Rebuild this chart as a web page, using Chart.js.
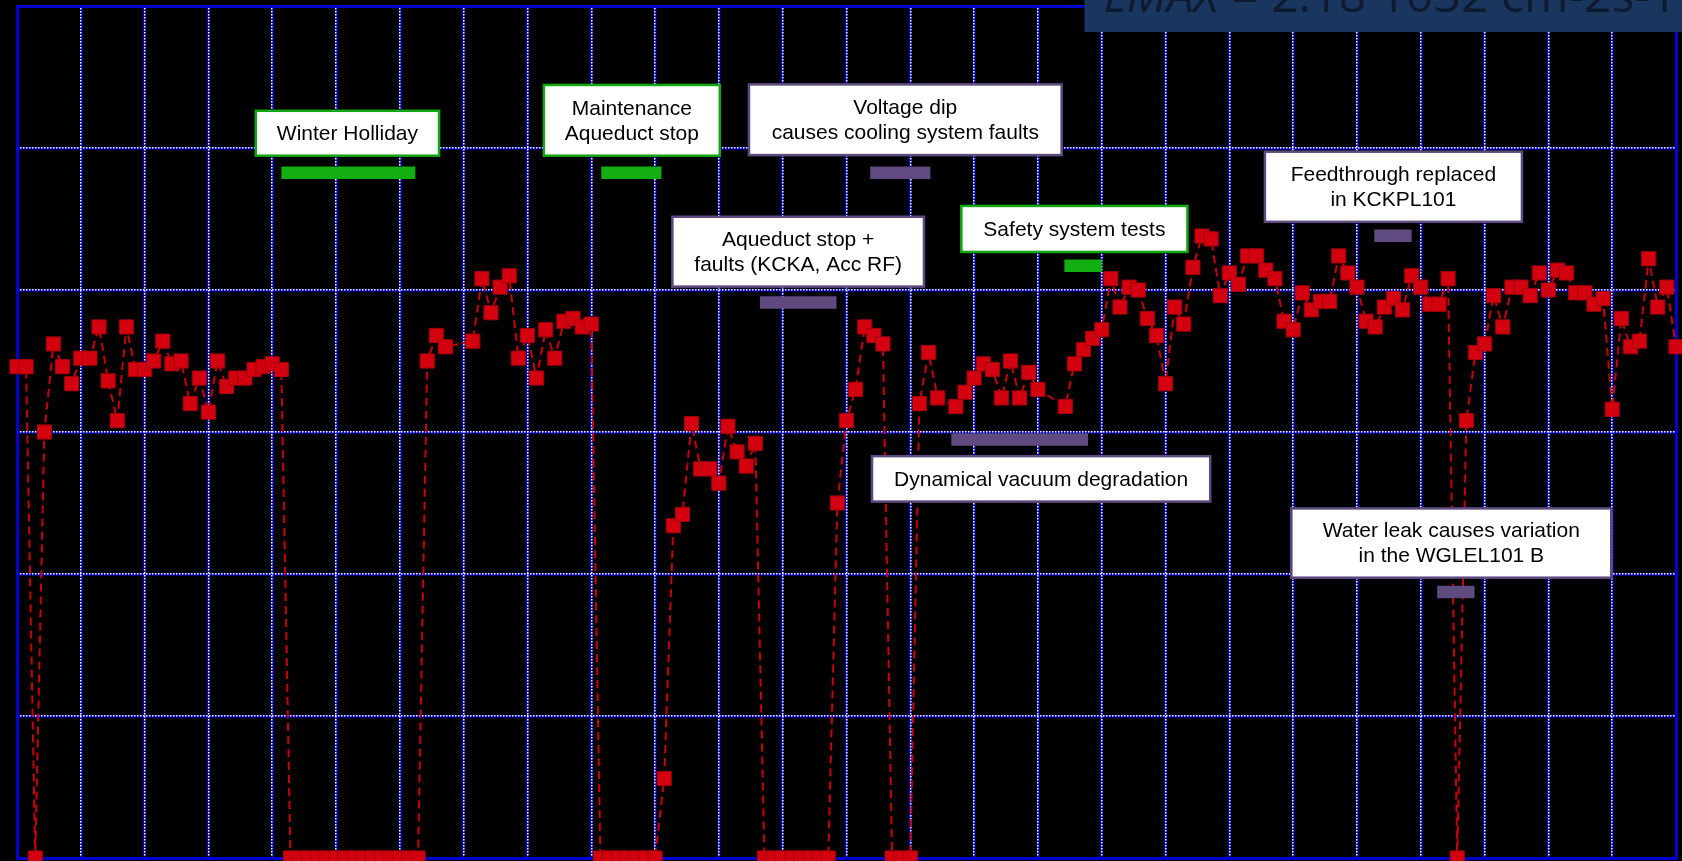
<!DOCTYPE html>
<html>
<head>
<meta charset="utf-8">
<script src="https://cdn.jsdelivr.net/npm/chart.js@4.4.1/dist/chart.umd.min.js"></script>
<style>
html,body{margin:0;padding:0;background:#000;overflow:hidden}
canvas{display:block}
</style>
</head>
<body>
<canvas id="c" width="1682" height="861"></canvas>
<script>
// ---- data: day index (0 = first day of the run) and delivered luminosity (10^32 cm-2 s-1) ----
const days = [
  0,1,2,3,4,5,6,7,8,9,10,11,12,13,14,15,16,17,18,19,20,21,22,23,24,25,26,27,28,29,
  30,31,32,33,34,35,36,37,38,39,40,41,42,43,44,
  45,46,47,50,51,52,53,54,55,56,57,58,59,60,61,62,63,
  64,65,66,67,68,69,70,
  71,72,73,74,75,76,77,78,79,80,81,
  82,83,84,85,86,87,88,89,
  90,91,92,93,94,95,
  96,97,98,
  99,100,101,103,104,105,106,107,108,109,110,111,112,115,116,117,118,119,
  120,121,122,123,124,125,126,127,128,129,130,131,132,133,134,135,136,137,138,139,
  140,141,142,143,144,145,146,147,148,149,150,151,152,153,154,155,156,157,
  158,
  159,160,161,162,163,164,165,166,167,168,169,170,171,172,173,174,175,176,177,178,179,180,181,182
];
const luminosity = [
  1.73,1.73,0,1.50,1.81,1.73,1.67,1.76,1.76,1.87,1.68,1.54,1.87,1.72,1.72,1.75,1.82,1.74,1.75,1.60,1.69,1.57,1.75,1.66,1.69,1.69,1.72,1.73,1.74,1.72,
  0,0,0,0,0,0,0,0,0,0,0,0,0,0,0,
  1.75,1.84,1.80,1.82,2.04,1.92,2.01,2.05,1.76,1.84,1.69,1.86,1.76,1.89,1.90,1.87,1.88,
  0,0,0,0,0,0,0,
  0.28,1.17,1.21,1.53,1.37,1.37,1.32,1.52,1.43,1.38,1.46,
  0,0,0,0,0,0,0,0,
  1.25,1.54,1.65,1.87,1.84,1.81,
  0,0,0,
  1.60,1.78,1.62,1.59,1.64,1.69,1.74,1.72,1.62,1.75,1.62,1.71,1.65,1.59,1.74,1.79,1.83,1.86,
  2.04,1.94,2.01,2.00,1.90,1.84,1.67,1.94,1.88,2.08,2.19,2.18,1.98,2.06,2.02,2.12,2.12,2.07,2.04,1.89,
  1.86,1.99,1.93,1.96,1.96,2.12,2.06,2.01,1.89,1.87,1.94,1.97,1.93,2.05,2.01,1.95,1.95,2.04,
  0,
  1.54,1.78,1.81,1.98,1.87,2.01,2.01,1.98,2.06,2.00,2.07,2.06,1.99,1.99,1.95,1.97,1.58,1.90,1.80,1.82,2.11,1.94,2.01,1.80
];

// axis extents and grid steps (one grid column = one week)
const dayRange = [0, 182];
const weekStep = 7;
const lumRange = [0, 3];
const lumStep = 0.5;

// ---- events: text, duration (days) and level of the marker bar ----
const eventText = [
  ["Winter Holliday"],
  ["Maintenance", "Aqueduct stop"],
  ["Voltage dip", "causes cooling system faults"],
  ["Aqueduct stop +", "faults (KCKA, Acc RF)"],
  ["Safety system tests"],
  ["Feedthrough replaced", "in KCKPL101"],
  ["Dynamical vacuum degradation"],
  ["Water leak causes variation", "in the WGLEL101 B"]
];
const eventStart = [29.0, 64.1, 93.6, 81.5, 114.9, 148.9, 102.5, 155.8];
const eventEnd   = [43.7, 70.7, 100.2, 89.9, 119.0, 153.0, 117.5, 159.9];
const eventLevel = [2.413, 2.413, 2.413, 1.956, 2.085, 2.191, 1.474, 0.937];
const eventKind  = ["planned","planned","fault","fault","planned","fault","fault","fault"];

const lmaxTitle = ["LMAX", " = 2.18 1032 cm-2s-1"];

// ---- layout / style (kept apart from the data) ----
// label boxes in data units: [dayLeft, dayRight, valueTop, valueBottom]
const labelBoxes = [
  [26.2, 46.3, 2.631, 2.473],
  [57.8, 77.1, 2.722, 2.473],
  [80.3, 114.6, 2.724, 2.475],
  [71.9, 99.5, 2.258, 2.012],
  [103.6, 128.4, 2.296, 2.134],
  [136.9, 165.1, 2.487, 2.240],
  [93.8, 130.9, 1.415, 1.255],
  [139.8, 174.9, 1.231, 0.987]
];
const kindStyle = {
  planned: { bar: "#12ae12", border: "#13a813" },
  fault:   { bar: "#5f4b80", border: "#5d4a7e" }
};
const GRID_BLUE = "#0000cc";

const datasets = [{
  type: "line",
  data: days.map((d, i) => ({ x: d, y: luminosity[i] })),
  borderColor: "#c8000c",
  borderWidth: 2,
  borderDash: [8, 5],
  pointStyle: "rect",
  pointRadius: 10,
  pointHoverRadius: 10,
  pointBackgroundColor: "#d3000f",
  pointBorderColor: "#a4000b",
  pointBorderWidth: 1,
  tension: 0,
  fill: false,
  clip: false,
  order: 1
}];
eventStart.forEach((s, i) => {
  datasets.push({
    type: "line",
    data: [{ x: s, y: eventLevel[i] }, { x: eventEnd[i], y: eventLevel[i] }],
    borderColor: kindStyle[eventKind[i]].bar,
    borderWidth: 12.5,
    borderCapStyle: "butt",
    pointRadius: 0,
    pointHoverRadius: 0,
    fill: false,
    clip: false,
    order: 0
  });
});

const blackBackground = {
  id: "blackBackground",
  beforeDraw(chart) {
    const ctx = chart.ctx;
    ctx.save();
    ctx.fillStyle = "#000";
    ctx.fillRect(0, 0, chart.width, chart.height);
    ctx.restore();
  }
};

const eventLabels = {
  id: "eventLabels",
  afterDatasetsDraw(chart) {
    const ctx = chart.ctx;
    const xs = chart.scales.x, ys = chart.scales.y;
    ctx.save();
    labelBoxes.forEach((b, i) => {
      const x1 = xs.getPixelForValue(b[0]), x2 = xs.getPixelForValue(b[1]);
      const y1 = ys.getPixelForValue(b[2]), y2 = ys.getPixelForValue(b[3]);
      ctx.fillStyle = "#ffffff";
      ctx.fillRect(x1, y1, x2 - x1, y2 - y1);
      ctx.lineWidth = 2.5;
      ctx.strokeStyle = kindStyle[eventKind[i]].border;
      ctx.strokeRect(x1, y1, x2 - x1, y2 - y1);
      const lines = eventText[i];
      const cx = (x1 + x2) / 2, cy = (y1 + y2) / 2;
      const lh = 25;
      ctx.fillStyle = "#000";
      ctx.font = '21px "Liberation Sans", Arial, sans-serif';
      ctx.textAlign = "center";
      ctx.textBaseline = "middle";
      lines.forEach((t, k) => {
        ctx.fillText(t, cx, cy + (k - (lines.length - 1) / 2) * lh + 1);
      });
    });

    // LMAX title banner (partly off the top of the picture)
    const bx = xs.getPixelForValue(117.1);
    ctx.fillStyle = "#1a365e";
    ctx.fillRect(bx, 0, chart.width - bx, 32);
    ctx.fillStyle = "#0d1a30";
    ctx.textAlign = "left";
    ctx.textBaseline = "alphabetic";
    const base = 46;
    ctx.font = 'italic ' + base + 'px "Open Sans", sans-serif';
    const w1 = ctx.measureText(lmaxTitle[0]).width;
    ctx.font = base + 'px "Open Sans", sans-serif';
    const w2 = ctx.measureText(lmaxTitle[1]).width;
    const target = 574;
    const fs = base * target / (w1 + w2);
    const tx = bx + 19;
    ctx.font = 'italic ' + fs + 'px "Open Sans", sans-serif';
    ctx.fillText(lmaxTitle[0], tx, 12);
    const wl = ctx.measureText(lmaxTitle[0]).width;
    ctx.font = fs + 'px "Open Sans", sans-serif';
    ctx.fillText(lmaxTitle[1], tx + wl, 12);
    ctx.restore();
  }
};

new Chart(document.getElementById("c"), {
  data: { datasets },
  options: {
    responsive: false,
    devicePixelRatio: 1,
    animation: false,
    events: [],
    layout: { autoPadding: false, padding: { left: 17, top: 6, right: 6, bottom: 3 } },
    plugins: { legend: { display: false }, tooltip: { enabled: false }, title: { display: false } },
    scales: {
      x: {
        type: "linear", position: "bottom", min: dayRange[0], max: dayRange[1],
        ticks: { stepSize: weekStep, display: false },
        grid: { color: GRID_BLUE, lineWidth: 2.5, drawTicks: false, z: -2 },
        border: { color: GRID_BLUE, width: 3 }
      },
      xDots: {
        type: "linear", position: "top", min: dayRange[0], max: dayRange[1],
        ticks: { stepSize: weekStep, display: false },
        grid: { color: "#ffffff", lineWidth: 1.5, drawTicks: false, z: -1 },
        border: { color: GRID_BLUE, width: 3, dash: [1.5, 1.5] }
      },
      y: {
        type: "linear", position: "left", min: lumRange[0], max: lumRange[1],
        ticks: { stepSize: lumStep, display: false },
        grid: { color: GRID_BLUE, lineWidth: 2.5, drawTicks: false, z: -2 },
        border: { color: GRID_BLUE, width: 3 }
      },
      yDots: {
        type: "linear", position: "right", min: lumRange[0], max: lumRange[1],
        ticks: { stepSize: lumStep, display: false },
        grid: { color: "#ffffff", lineWidth: 1.5, drawTicks: false, z: -1 },
        border: { color: GRID_BLUE, width: 3, dash: [1.5, 1.5] }
      }
    }
  },
  plugins: [blackBackground, eventLabels]
});
</script>
</body>
</html>
